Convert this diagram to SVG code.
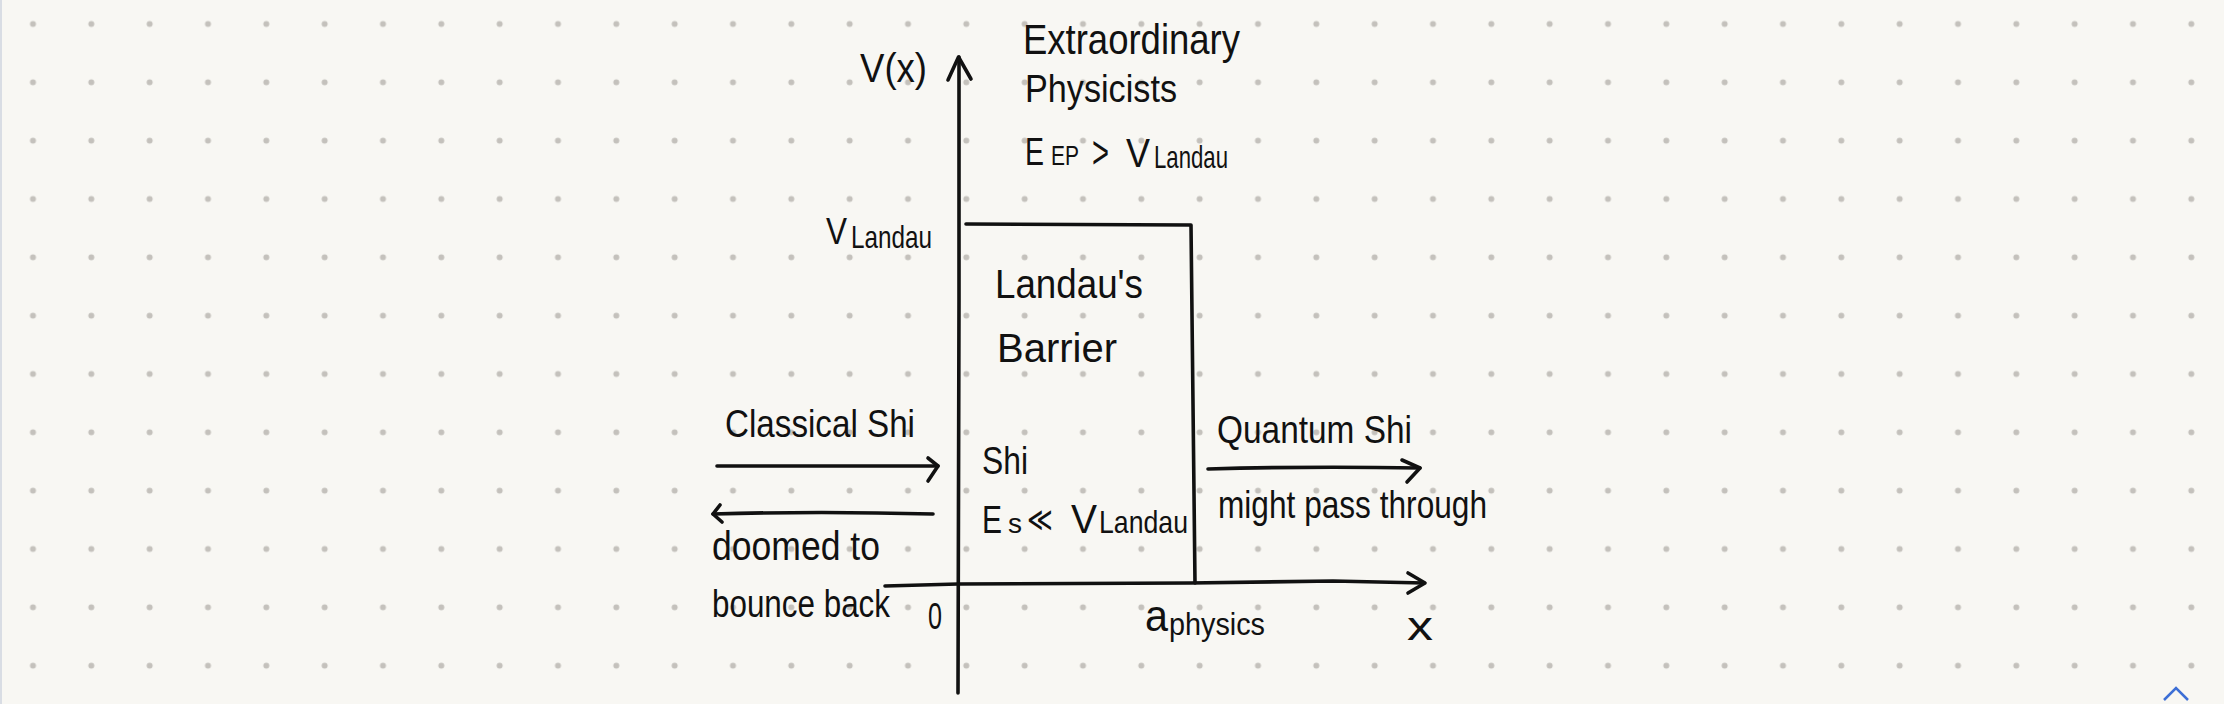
<svg xmlns="http://www.w3.org/2000/svg" width="2224" height="704" viewBox="0 0 2224 704">
  <defs>
    <pattern id="dots" patternUnits="userSpaceOnUse" x="3.8333" y="-5.1667" width="58.3333" height="58.3333">
      <circle cx="29.1667" cy="29.1667" r="3" fill="#c4c1bc"/>
    </pattern>
  </defs>
  <style>
    .ink { fill: none; stroke: #111; stroke-width: 3.6; stroke-linecap: round; stroke-linejoin: round; }
    .t { font-family: "Liberation Sans", Arial, sans-serif; fill: #111; }
  </style>
  <rect x="0" y="0" width="2224" height="704" fill="#f8f7f3"/>
  <rect x="0" y="0" width="2224" height="704" fill="url(#dots)"/>
  <line x1="1" y1="0" x2="1" y2="704" stroke="#d9dde4" stroke-width="2"/>
  <path d="M2164,700 L2176,688 L2188,700" fill="none" stroke="#3d6fd6" stroke-width="2.5"/>

  <g id="connectors">
    <path id="y-axis" class="ink" d="M959,57 L959,300 L958,693"/>
    <path class="ink" d="M948,80 L958.5,57 L971,79"/>
    <path id="x-axis" class="ink" d="M885,586 L958,584 L1190,583 L1333,581 L1424,583"/>
    <path class="ink" d="M1408,573 L1425,583 L1408,593"/>
    <path id="barrier" class="ink" d="M966,224 L1191,225 L1195,583"/>
    <path id="arrow-classical" class="ink" d="M717,466 L938,466"/>
    <path class="ink" d="M928,458 L938,466 L928,481"/>
    <path id="arrow-bounce" class="ink" d="M713,514 Q820,511 933,514"/>
    <path class="ink" d="M720,505 L713,514 L722,522"/>
    <path id="arrow-quantum" class="ink" d="M1208,469 Q1310,466 1420,468"/>
    <path class="ink" d="M1402,460 L1420,468 L1407,482"/>
  </g>

  <g id="label-vx">
    <text class="t" x="860" y="82" font-size="40" textLength="67" lengthAdjust="spacingAndGlyphs">V(x)</text>
  </g>
  <g id="label-ep">
    <text class="t" x="1023" y="54" font-size="42" textLength="217" lengthAdjust="spacingAndGlyphs">Extraordinary</text>
    <text class="t" x="1025" y="102" font-size="38" textLength="152" lengthAdjust="spacingAndGlyphs">Physicists</text>
    <text class="t"><tspan x="1025" y="165" font-size="38" textLength="19" lengthAdjust="spacingAndGlyphs">E</tspan><tspan x="1051" y="165" font-size="28" textLength="28" lengthAdjust="spacingAndGlyphs">EP</tspan><tspan x="1092" y="168" font-size="46" textLength="17" lengthAdjust="spacingAndGlyphs">&gt;</tspan><tspan x="1126" y="167" font-size="40" textLength="24" lengthAdjust="spacingAndGlyphs">V</tspan><tspan x="1154" y="168" font-size="32" textLength="74" lengthAdjust="spacingAndGlyphs">Landau</tspan></text>
  </g>
  <g id="label-vlandau">
    <text class="t"><tspan x="826" y="244" font-size="36" textLength="21" lengthAdjust="spacingAndGlyphs">V</tspan><tspan x="851" y="248" font-size="32" textLength="81" lengthAdjust="spacingAndGlyphs">Landau</tspan></text>
  </g>
  <g id="label-barrier">
    <text class="t" x="995" y="298" font-size="40" textLength="148" lengthAdjust="spacingAndGlyphs">Landau's</text>
    <text class="t" x="997" y="362" font-size="40" textLength="120" lengthAdjust="spacingAndGlyphs">Barrier</text>
  </g>
  <g id="label-shi">
    <text class="t" x="982" y="474" font-size="38" textLength="46" lengthAdjust="spacingAndGlyphs">Shi</text>
    <text class="t"><tspan x="982" y="533" font-size="38" textLength="20" lengthAdjust="spacingAndGlyphs">E</tspan><tspan x="1008" y="533" font-size="28" textLength="14" lengthAdjust="spacingAndGlyphs">s</tspan><tspan x="1027" y="531" font-size="34" textLength="26" lengthAdjust="spacingAndGlyphs">≪</tspan><tspan x="1071" y="533" font-size="40" textLength="26" lengthAdjust="spacingAndGlyphs">V</tspan><tspan x="1099" y="533" font-size="32" textLength="89" lengthAdjust="spacingAndGlyphs">Landau</tspan></text>
  </g>
  <g id="label-classical">
    <text class="t" x="725" y="437" font-size="38" textLength="190" lengthAdjust="spacingAndGlyphs">Classical Shi</text>
  </g>
  <g id="label-bounce">
    <text class="t" x="712" y="560" font-size="40" textLength="168" lengthAdjust="spacingAndGlyphs">doomed to</text>
    <text class="t" x="712" y="617" font-size="38" textLength="178" lengthAdjust="spacingAndGlyphs">bounce back</text>
  </g>
  <g id="label-quantum">
    <text class="t" x="1217" y="443" font-size="38" textLength="195" lengthAdjust="spacingAndGlyphs">Quantum Shi</text>
    <text class="t" x="1218" y="518" font-size="38" textLength="269" lengthAdjust="spacingAndGlyphs">might pass through</text>
  </g>
  <g id="label-origin">
    <text class="t" x="928" y="629" font-size="36" textLength="14" lengthAdjust="spacingAndGlyphs">0</text>
  </g>
  <g id="label-aphysics">
    <text class="t"><tspan x="1145" y="631" font-size="44" textLength="23" lengthAdjust="spacingAndGlyphs">a</tspan><tspan x="1169" y="635" font-size="32" textLength="96" lengthAdjust="spacingAndGlyphs">physics</tspan></text>
  </g>
  <g id="label-x">
    <text class="t" x="1407" y="640" font-size="40" textLength="26" lengthAdjust="spacingAndGlyphs">x</text>
  </g>
</svg>
